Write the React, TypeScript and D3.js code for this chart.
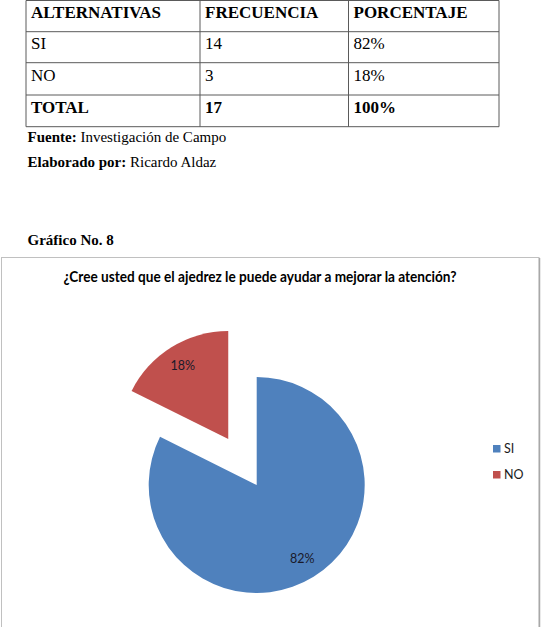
import React from "react";
import * as d3 from "d3";

const headers = ["ALTERNATIVAS", "FRECUENCIA", "PORCENTAJE"];
const categories = ["SI", "NO"];
const frequencies = [14, 3];
const percentLabels = ["82%", "18%"];
const totalRow = ["TOTAL", "17", "100%"];
const chartTitle = "¿Cree usted que el ajedrez le puede ayudar a mejorar la atención?";
const colors = ["#4F81BD", "#C0504D"];

export default function App() {
  const W = 542, H = 627;
  // table geometry
  const colX = [26, 200, 348.5, 499];
  const rowY = [0.5, 31.7, 62.7, 95, 126.7];
  const textPad = 5;
  const baseOff = [17.5, 49.3, 81, 113.3];
  const serif = "'Liberation Serif', 'Times New Roman', serif";
  const sans = "Lato, 'Open Sans', sans-serif";

  const rows = [
    headers,
    ...categories.map((c, i) => [c, String(frequencies[i]), percentLabels[i]]),
    totalRow,
  ];
  const boldRow = (i: number) => i === 0 || i === rows.length - 1;

  // pie
  const cx = 256.7, cy = 485, r = 108, explode = 54;
  const pie = d3.pie<number>().sort(null).startAngle(0).endAngle(2 * Math.PI);
  const arcs = pie(frequencies);
  const arc = d3.arc<d3.PieArcDatum<number>>().innerRadius(0).outerRadius(r);
  const labelArc = d3.arc<d3.PieArcDatum<number>>().innerRadius(r * 0.8).outerRadius(r * 0.8);

  return (
    <div style={{ position: "absolute", left: 0, top: 0 }}>
      <svg width={W} height={H} style={{ display: "block", background: "#fff" }}>
        <rect x={0} y={0} width={W} height={H} fill="#fff" />
        {/* table */}
        <g stroke="#5a5a5a" strokeWidth={1} fill="none">
          {rowY.map((y, i) => (
            <line key={"h" + i} x1={colX[0]} x2={colX[3]} y1={y} y2={y} />
          ))}
          {colX.map((x, i) => (
            <line key={"v" + i} x1={x} x2={x} y1={rowY[0]} y2={rowY[4]} />
          ))}
        </g>
        {rows.map((row, ri) =>
          row.map((cell, ci) => (
            <text
              key={ri + "-" + ci}
              x={colX[ci] + textPad}
              y={baseOff[ri]}
              fontFamily={serif}
              fontSize={17}
              fontWeight={boldRow(ri) ? "bold" : "normal"}
              fill="#000"
            >
              {cell}
            </text>
          ))
        )}
        {/* notes */}
        <text x={27.5} y={141.5} fontFamily={serif} fontSize={15} fill="#000">
          <tspan fontWeight="bold">Fuente:</tspan> Investigación de Campo
        </text>
        <text x={27.5} y={166.5} fontFamily={serif} fontSize={15} fill="#000">
          <tspan fontWeight="bold">Elaborado por:</tspan> Ricardo Aldaz
        </text>
        <text x={27.5} y={245} fontFamily={serif} fontSize={15} fontWeight="bold" fill="#000">
          Gráfico No. 8
        </text>
        {/* chart box */}
        <rect x={1.5} y={257.5} width={537.5} height={380} fill="#fff" stroke="#c0c0c0" strokeWidth={1} />
        <line x1={539.5} x2={539.5} y1={258} y2={H} stroke="#a8a8a8" strokeWidth={1.5} />
        <text x={260} y={282} textAnchor="middle" fontFamily={sans} fontSize={14.5} fontWeight="bold" fill="#000" textLength={393} lengthAdjust="spacingAndGlyphs">
          {chartTitle}
        </text>
        {arcs.map((a, i) => {
          const mid = (a.startAngle + a.endAngle) / 2;
          const off = i === 1 ? explode : 0;
          const dx = off * Math.sin(mid), dy = -off * Math.cos(mid);
          const [lx, ly] = labelArc.centroid(a);
          return (
            <g key={categories[i]} transform={`translate(${cx + dx},${cy + dy})`}>
              <path d={arc(a) || ""} fill={colors[i]} />
              <text x={lx} y={ly} dy="0.35em" textAnchor="middle" fontFamily={sans} fontSize={12.5} fill="#1a1a2a">
                {percentLabels[i]}
              </text>
            </g>
          );
        })}
        {/* legend */}
        {categories.map((c, i) => (
          <g key={"lg" + c} transform={`translate(493,${445 + i * 26})`}>
            <rect x={0} y={0} width={7.5} height={7.5} fill={colors[i]} />
            <text x={11} y={8} fontFamily={sans} fontSize={12.5} fill="#1a1a1a">
              {c}
            </text>
          </g>
        ))}
      </svg>
    </div>
  );
}
